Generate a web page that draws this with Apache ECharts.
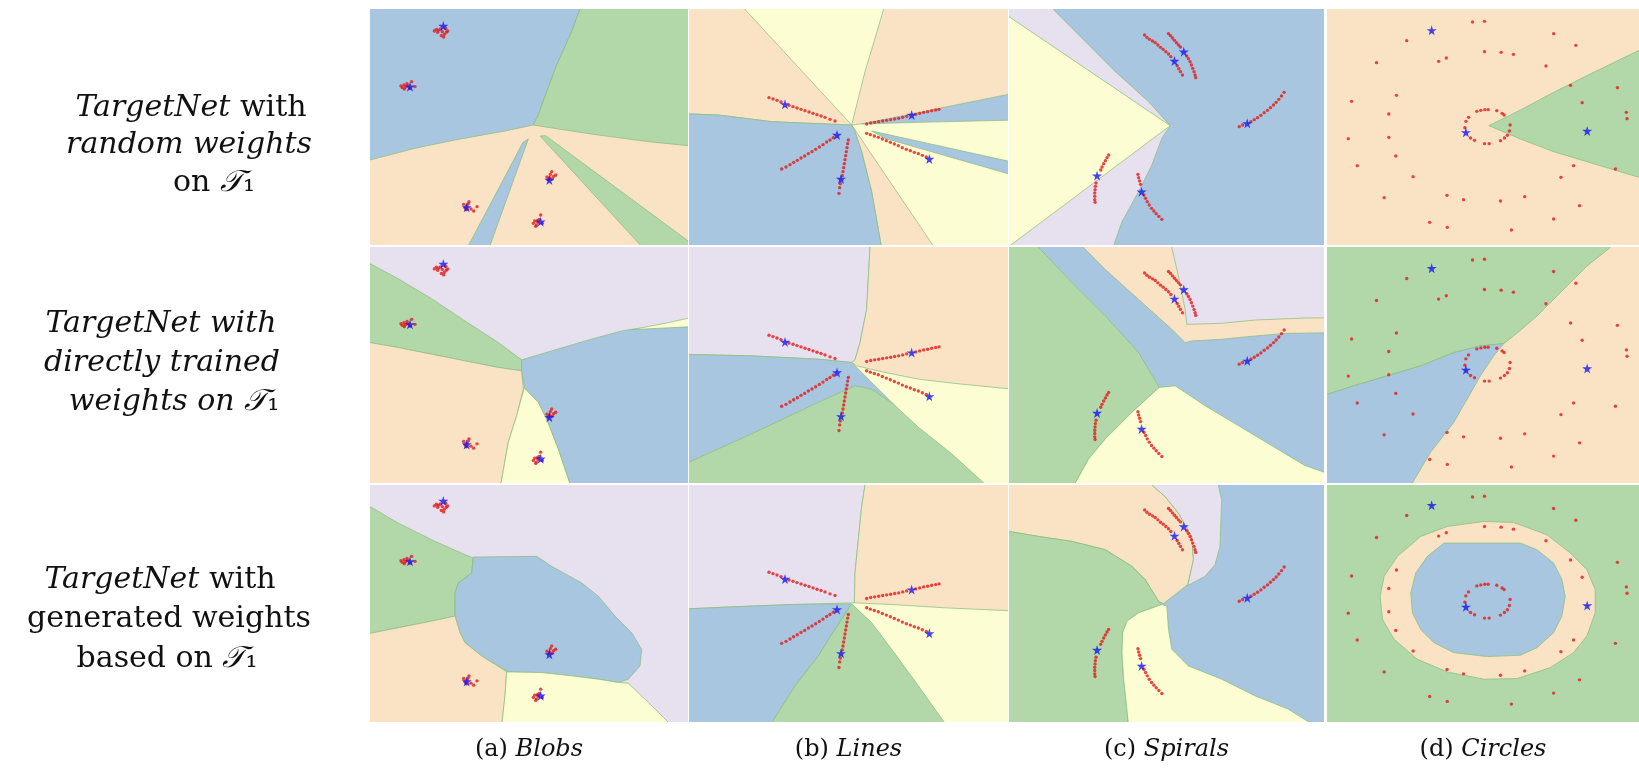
<!DOCTYPE html>
<html>
<head>
<meta charset="utf-8">
<script src="https://cdn.jsdelivr.net/npm/echarts@6.0.0/dist/echarts.min.js"></script>
<style>
html, body { margin: 0; padding: 0; background: #fff; }
#chart { width: 1639px; height: 768px; }
</style>
</head>
<body>
<div id="chart"></div>
<script>
// sketch units: every panel is measured in its own picture units (about 3 per pixel),
// x to the right, y downward. Class ids: 0 blue, 1 green, 2 peach, 3 yellow, 4 lavender.
const FULL = [[-40, -40], [1010, -40], [1010, 760], [-40, 760]];

// ---- points, one set per dataset (shared by the three rows) ----
const blobsDots = [
    [208, 78], [214, 73], [220, 76], [226, 72], [232, 80], [238, 88], [244, 82], [236, 96], [229, 92], [248, 78], [218, 82], [242, 70],
    [108, 243], [112, 248], [117, 240], [122, 246], [128, 242], [135, 250], [140, 230], [150, 245], [118, 252], [126, 236],
    [296, 598], [300, 608], [306, 602], [312, 590], [318, 612], [326, 618], [336, 605], [304, 614], [310, 596],
    [546, 516], [550, 524], [556, 508], [560, 500], [566, 514], [572, 510], [554, 518], [562, 522],
    [505, 655], [509, 648], [514, 660], [519, 652], [522, 643], [527, 630], [532, 655], [512, 664], [517, 647]
];
const blobsStars = [[235, 63], [135, 245], [305, 607], [553, 525], [527, 650]];

const linesDots = [
    [252, 278], [264, 282], [276, 286], [288, 291], [312, 301], [324, 305], [336, 309], [348, 313], [360, 317], [372, 321], [384, 325], [396, 329], [408, 333], [420, 337], [435, 343], [450, 348],
    [545, 357], [557, 354], [569, 352], [581, 350], [593, 348], [605, 346], [617, 344], [629, 342], [641, 340], [653, 337], [665, 334], [692, 328], [704, 325], [716, 322], [728, 320], [740, 317], [752, 315], [762, 313],
    [545, 385], [556, 389], [568, 393], [580, 397], [592, 402], [604, 407], [616, 412], [628, 417], [640, 422], [652, 428], [664, 433], [676, 437], [688, 442], [700, 446], [712, 451], [724, 456],
    [445, 398], [435, 405], [425, 411], [414, 419], [403, 426], [392, 433], [381, 440], [370, 446], [359, 453], [348, 459], [337, 466], [326, 472], [315, 479], [303, 486], [290, 492],
    [490, 405], [488, 416], [486, 428], [484, 440], [482, 452], [480, 464], [478, 476], [476, 488], [474, 500], [472, 512], [466, 536], [464, 548], [462, 565]
];
const linesStars = [[300, 298], [680, 330], [733, 462], [456, 390], [468, 522]];

const spiralDots = [
    [418, 90], [425, 97], [433, 103], [442, 108], [450, 113], [458, 120], [466, 127], [474, 133], [482, 140], [490, 147], [497, 155], [516, 182], [521, 191], [526, 200], [532, 210],
    [490, 86], [496, 92], [502, 99], [508, 106], [514, 113], [520, 120], [526, 126], [545, 153], [550, 161], [555, 170], [559, 180], [563, 190], [567, 200], [570, 210], [572, 218],
    [703, 365], [713, 360], [738, 350], [748, 344], [758, 338], [768, 331], [778, 323], [788, 316], [797, 308], [806, 300], [814, 292], [822, 283], [830, 273], [838, 262],
    [310, 450], [305, 458], [300, 467], [295, 476], [290, 486], [286, 495], [272, 534], [270, 544], [269, 554], [268, 564], [268, 574], [268, 584], [269, 592],
    [398, 508], [400, 518], [403, 528], [406, 538], [416, 570], [421, 580], [426, 590], [432, 600], [439, 610], [446, 618], [453, 626], [461, 634], [470, 643]
];
const spiralStars = [[508, 168], [536, 140], [727, 355], [275, 512], [409, 560]];

const circleDots = [
    [456, 51], [492, 49], [700, 86], [767, 121], [258, 107], [167, 173], [354, 169], [377, 159], [492, 140], [542, 142], [579, 148], [677, 183],
    [751, 241], [892, 248], [786, 293], [919, 322], [921, 341], [227, 271], [92, 289], [204, 327], [82, 401], [204, 397], [225, 453], [109, 482],
    [277, 515], [760, 482], [886, 492], [722, 517], [190, 578], [379, 571], [429, 584], [540, 588], [613, 575], [778, 602], [700, 642], [327, 652],
    [380, 667], [573, 675],
    [469, 319], [481, 316], [493, 314], [503, 314], [529, 317], [545, 325], [551, 330], [569, 360], [567, 378], [561, 391], [552, 399], [540, 407],
    [506, 416], [492, 416], [462, 406], [450, 399], [433, 368], [436, 349], [444, 337]
];
const circleStars = [[333, 76], [436, 382], [801, 378]];

// ---- decision regions: [class, outline] drawn in order ----
const blobsRandom = [
    [2, FULL],
    [0, [[-30, -30], [645, -30], [645, 12], [620, 80], [575, 180], [545, 260], [520, 330], [505, 360], [420, 378], [270, 405], [150, 430], [15, 465], [-30, 470]]],
    [1, [[645, -30], [1000, -30], [1000, 425], [850, 410], [700, 390], [600, 375], [505, 360], [520, 330], [545, 260], [575, 180], [620, 80], [645, 12]]],
    [1, [[525, 393], [542, 392], [975, 712], [975, 730], [835, 730]]],
    [0, [[490, 402], [372, 730], [306, 730], [474, 412]]]
];
const linesRandom = [
    [3, FULL],
    [2, [[-30, -30], [140, -30], [500, 360], [260, 350], [100, 330], [-30, 325]]],
    [2, [[598, -30], [1000, -30], [1000, 268], [850, 295], [700, 328], [540, 355], [500, 360], [515, 300], [540, 200], [570, 100], [596, 12]]],
    [0, [[530, 357], [1000, 262], [1000, 345], [700, 352]]],
    [0, [[560, 378], [1000, 475], [1000, 515], [600, 400]]],
    [2, [[500, 360], [750, 730], [590, 730], [560, 560], [530, 440], [510, 380]]],
    [0, [[-30, 325], [100, 330], [260, 350], [500, 360], [510, 380], [530, 440], [560, 560], [590, 730], [-30, 730]]]
];
const spiralsRandom = [
    [0, FULL],
    [4, [[-30, -30], [145, -30], [145, 15], [240, 110], [330, 200], [430, 290], [495, 362], [470, 400], [440, 480], [400, 560], [350, 650], [322, 730], [-30, 730]]],
    [3, [[-30, 8], [495, 362], [-30, 754]]]
];
const circlesRandom = [
    [2, FULL],
    [1, [[505, 362], [600, 315], [700, 262], [800, 212], [1000, 115], [1000, 530], [800, 470], [700, 440], [600, 402]]]
];

const blobsTrained = [
    [4, FULL],
    [1, [[-30, 45], [15, 62], [100, 108], [200, 168], [300, 235], [400, 300], [470, 352], [470, 385], [400, 375], [300, 355], [200, 335], [100, 315], [15, 300], [-30, 298]]],
    [2, [[-30, 298], [15, 300], [100, 315], [200, 335], [300, 355], [400, 375], [470, 385], [475, 440], [455, 520], [430, 600], [405, 740], [-30, 740]]],
    [3, [[478, 436], [520, 480], [545, 530], [580, 620], [620, 740], [405, 740], [430, 600], [455, 520]]],
    [0, [[470, 352], [560, 325], [660, 295], [770, 265], [800, 260], [1000, 250], [1000, 740], [620, 740], [580, 620], [545, 530], [520, 480], [478, 436], [470, 385]]],
    [3, [[800, 261], [900, 242], [1000, 220], [1000, 251]]]
];
const linesTrained = [
    [3, FULL],
    [4, [[-30, -30], [558, -30], [555, 12], [545, 200], [525, 300], [510, 352], [500, 360], [400, 350], [200, 340], [-30, 335]]],
    [2, [[558, -30], [1000, -30], [1000, 442], [800, 422], [700, 410], [600, 390], [515, 370], [500, 360], [510, 352], [525, 300], [545, 200], [555, 12]]],
    [0, [[-30, 335], [200, 340], [400, 350], [500, 360], [628, 488], [628, 740], [-30, 740]]],
    [1, [[-30, 675], [12, 660], [200, 575], [400, 480], [510, 430], [560, 440], [625, 485], [700, 555], [800, 635], [915, 740], [-30, 740]]]
];
const spiralsTrained = [
    [0, FULL],
    [1, [[-30, -30], [80, -30], [100, 14], [200, 120], [300, 220], [400, 330], [462, 435], [380, 510], [300, 590], [250, 650], [200, 740], [-30, 740]]],
    [3, [[462, 435], [510, 430], [600, 490], [700, 550], [800, 610], [900, 670], [1000, 705], [1000, 740], [200, 740], [250, 650], [300, 590], [380, 510]]],
    [2, [[215, -30], [1000, -30], [1000, 270], [850, 272], [750, 280], [650, 290], [560, 295], [540, 300], [500, 260], [400, 170], [300, 80], [235, 14]]],
    [4, [[498, -30], [1000, -30], [1000, 225], [900, 226], [750, 232], [650, 242], [545, 245], [540, 200], [520, 100], [500, 14]]]
];
const circlesTrained = [
    [2, FULL],
    [1, [[-30, -30], [880, -30], [870, 14], [800, 70], [720, 150], [650, 220], [580, 280], [550, 303], [480, 310], [400, 330], [300, 370], [200, 400], [100, 430], [22, 455], [-30, 460]]],
    [0, [[-30, 460], [22, 455], [100, 430], [200, 400], [300, 370], [400, 330], [480, 310], [550, 303], [520, 340], [480, 400], [440, 470], [400, 540], [330, 630], [265, 740], [-30, 740]]]
];

const blobsGenerated = [
    [4, FULL],
    [1, [[-30, 60], [15, 80], [100, 130], [200, 180], [300, 225], [325, 235], [320, 280], [280, 310], [270, 340], [270, 410], [200, 425], [100, 445], [15, 462], [-30, 465]]],
    [0, [[325, 232], [515, 230], [560, 260], [650, 310], [700, 350], [750, 410], [800, 460], [830, 510], [825, 560], [790, 600], [760, 610], [700, 600], [620, 590], [530, 580], [430, 578], [350, 530], [300, 490], [285, 460], [270, 410], [270, 340], [280, 310], [320, 280]]],
    [2, [[-30, 465], [15, 462], [100, 445], [200, 425], [270, 410], [285, 460], [300, 490], [350, 530], [425, 578], [420, 650], [410, 740], [-30, 740]]],
    [3, [[425, 578], [530, 580], [620, 590], [700, 600], [760, 610], [790, 612], [850, 670], [920, 740], [410, 740], [420, 650]]]
];
const linesGenerated = [
    [3, FULL],
    [4, [[-30, -30], [542, -30], [540, 15], [530, 80], [520, 180], [510, 280], [508, 370], [320, 375], [120, 383], [-30, 390]]],
    [2, [[542, -30], [1000, -30], [1000, 395], [780, 385], [620, 375], [508, 370], [510, 280], [520, 180], [530, 80], [540, 15]]],
    [0, [[-30, 390], [120, 383], [320, 375], [500, 373], [450, 450], [400, 530], [330, 620], [255, 740], [-30, 740]]],
    [1, [[500, 373], [560, 430], [620, 510], [700, 620], [785, 740], [255, 740], [330, 620], [400, 530], [450, 450]]]
];
const spiralsGenerated = [
    [0, FULL],
    [2, [[-30, -30], [440, -30], [440, 15], [480, 50], [520, 100], [560, 170], [565, 240], [548, 315], [475, 372], [460, 365], [420, 300], [380, 260], [300, 210], [200, 185], [100, 170], [10, 155], [-30, 150]]],
    [4, [[440, -30], [645, -30], [640, 15], [650, 60], [645, 200], [630, 255], [600, 290], [548, 318], [565, 240], [560, 170], [520, 100], [480, 50], [440, 15]]],
    [1, [[-30, 150], [10, 155], [100, 170], [200, 185], [300, 210], [380, 260], [420, 300], [460, 365], [470, 375], [400, 400], [365, 425], [352, 460], [350, 520], [355, 600], [370, 740], [-30, 740]]],
    [3, [[470, 375], [485, 380], [490, 450], [500, 510], [550, 560], [650, 600], [750, 650], [850, 690], [930, 740], [370, 740], [355, 600], [350, 520], [352, 460], [365, 425], [400, 400]]]
];
const circlesGenerated = [
    [1, FULL],
    [2, [[490, 125], [580, 128], [680, 165], [750, 220], [800, 270], [825, 330], [825, 400], [800, 470], [760, 520], [690, 565], [590, 598], [490, 600], [380, 578], [290, 540], [220, 480], [185, 420], [178, 350], [190, 290], [230, 230], [300, 170], [380, 140]]],
    [0, [[370, 190], [600, 190], [650, 210], [700, 250], [725, 300], [735, 350], [725, 410], [700, 460], [650, 505], [600, 528], [500, 532], [400, 520], [340, 490], [300, 450], [275, 400], [270, 340], [285, 280], [320, 230]]]
];

const rowLabels = [
    ['{i|TargetNet} with', '{i|random weights}', 'on {i|𝒯}₁'],
    ['{i|TargetNet with}', '{i|directly trained}', '{i|weights on 𝒯}₁'],
    ['{i|TargetNet} with', 'generated weights', 'based on {i|𝒯}₁']
];
const colLabels = ['(a) {i|Blobs}', '(b) {i|Lines}', '(c) {i|Spirals}', '(d) {i|Circles}'];

// ---- layout ----
const colLeft = [370, 689, 1009, 1327];
const colWidth = [318, 319, 315, 312];
const rowTop = [9, 247, 485];
const rowHeight = [236, 236, 237];
const xExtent = [[15, 969], [12, 969], [10, 958], [18, 957]];
const yExtent = [[12, 720], [12, 723], [15, 729]];
const rowLabelX = [[191, 189, 214], [161, 162, 174], [160, 169, 167]];
const rowLabelY = [[108, 145, 183], [324, 363, 402], [580, 619, 659]];

const palette = ['#a8c6df', '#b2d7a9', '#fae3c5', '#fdfdd3', '#e7e0ee'];
const edgeColor = 'rgba(140, 190, 125, 0.75)';
const starPath = 'path://M50,0 L61,35 L98,35 L68,57 L79,91 L50,70 L21,91 L32,57 L2,35 L39,35 Z';

const panels = [
    [blobsRandom, linesRandom, spiralsRandom, circlesRandom],
    [blobsTrained, linesTrained, spiralsTrained, circlesTrained],
    [blobsGenerated, linesGenerated, spiralsGenerated, circlesGenerated]
];
const dotsByCol = [blobsDots, linesDots, spiralDots, circleDots];
const starsByCol = [blobsStars, linesStars, spiralStars, circleStars];

const grids = [], xAxes = [], yAxes = [], series = [];
panels.forEach((row, r) => {
    row.forEach((regions, c) => {
        const k = grids.length;
        grids.push({ left: colLeft[c], top: rowTop[r], width: colWidth[c], height: rowHeight[r] });
        xAxes.push({ gridIndex: k, type: 'value', min: xExtent[c][0], max: xExtent[c][1], show: false });
        yAxes.push({ gridIndex: k, type: 'value', min: yExtent[r][0], max: yExtent[r][1], inverse: true, show: false });
        series.push({
            type: 'custom',
            xAxisIndex: k,
            yAxisIndex: k,
            clip: true,
            silent: true,
            data: regions.map((reg, i) => [i]),
            renderItem: (params, api) => {
                const reg = regions[params.dataIndex];
                return {
                    type: 'polygon',
                    shape: { points: reg[1].map((p) => api.coord(p)) },
                    style: {
                        fill: palette[reg[0]],
                        stroke: params.dataIndex ? edgeColor : null,
                        lineWidth: 1
                    }
                };
            }
        });
        series.push({
            type: 'scatter',
            xAxisIndex: k,
            yAxisIndex: k,
            silent: true,
            data: dotsByCol[c],
            symbolSize: 3.4,
            itemStyle: { color: '#e31a1c' },
            z: 3
        });
        series.push({
            type: 'scatter',
            xAxisIndex: k,
            yAxisIndex: k,
            silent: true,
            data: starsByCol[c],
            symbol: starPath,
            symbolSize: 10,
            itemStyle: { color: '#1515f5' },
            z: 4
        });
    });
});

const labelFont = '"DejaVu Serif", serif';
const sideRich = { i: { fontStyle: 'italic', fontSize: 30, fontFamily: labelFont, fill: '#111' } };
const bottomRich = { i: { fontStyle: 'italic', fontSize: 24, fontFamily: labelFont, fill: '#111' } };
const graphics = [];
rowLabels.forEach((lines, r) => {
    lines.forEach((t, j) => {
        graphics.push({
            type: 'text',
            x: rowLabelX[r][j],
            y: rowLabelY[r][j],
            style: { text: t, fontSize: 30, fontFamily: labelFont, fill: '#111', align: 'center', verticalAlign: 'middle', rich: sideRich }
        });
    });
});
colLabels.forEach((t, c) => {
    graphics.push({
        type: 'text',
        x: colLeft[c] + colWidth[c] / 2,
        y: 750,
        style: { text: t, fontSize: 24, fontFamily: labelFont, fill: '#111', align: 'center', verticalAlign: 'middle', rich: bottomRich }
    });
});

const chart = echarts.init(document.getElementById('chart'));
chart.setOption({
    animation: false,
    backgroundColor: '#fff',
    grid: grids,
    xAxis: xAxes,
    yAxis: yAxes,
    series,
    graphic: graphics
});
</script>
</body>
</html>
